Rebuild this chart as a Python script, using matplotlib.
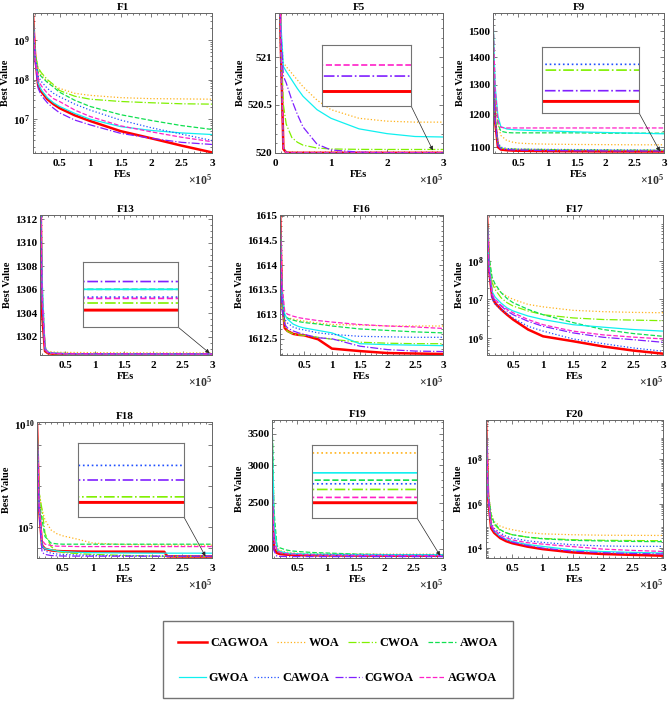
import numpy as np
import matplotlib.pyplot as plt
from matplotlib.lines import Line2D
from matplotlib.patches import Rectangle
from matplotlib.ticker import FixedLocator, FuncFormatter, NullLocator, MultipleLocator, LogLocator

plt.rcParams['font.family'] = ['Liberation Serif', 'DejaVu Serif']
plt.rcParams['font.weight'] = 'bold'
plt.rcParams['mathtext.fontset'] = 'custom'
plt.rcParams['mathtext.rm'] = 'Liberation Serif:bold'
plt.rcParams['mathtext.bf'] = 'Liberation Serif:bold'
plt.rcParams['mathtext.it'] = 'Liberation Serif:bold:italic'

# algorithms (legend order), colours and line styles
algs = ['CAGWOA', 'WOA', 'CWOA', 'AWOA', 'GWOA', 'CAWOA', 'CGWOA', 'AGWOA']
colors = ['#ff0000', '#ffb21a', '#80f000', '#10e050', '#10f0f0', '#2050ff', '#8020ff', '#ff20c8']
styles = ['-', ':', '-.', '--', '-', ':', '-.', '--']
widths = [1.8, 0.9, 0.9, 0.9, 0.9, 0.9, 0.9, 0.9]

# FEs where the curves were read
fes = [6500, 10000, 15000, 20000, 30000, 40000, 50000, 75000, 100000, 150000, 200000, 250000, 300000]
fes_f18 = [6500, 10000, 15000, 20000, 30000, 40000, 50000, 75000, 100000, 150000, 200000, 220000, 225000, 250000, 300000]

f1 = {
    'CAGWOA': [4.2e9, 4e8, 7e7, 5e7, 3.2e7, 2.4e7, 1.9e7, 1.25e7, 9e6, 5e6, 3.3e6, 2.15e6, 1.45e6],
    'WOA':    [3.5e9, 5e8, 1.9e8, 1.3e8, 9e7, 6.9e7, 6e7, 4.5e7, 4e7, 3.5e7, 3.3e7, 3.25e7, 3.2e7],
    'CWOA':   [3.8e9, 4.5e8, 2e8, 1.5e8, 1e8, 7.5e7, 5.3e7, 3.8e7, 3.2e7, 2.8e7, 2.6e7, 2.45e7, 2.4e7],
    'AWOA':   [4e9, 4e8, 1.5e8, 1.2e8, 8.5e7, 6.5e7, 4.8e7, 3e7, 2.1e7, 1.3e7, 9.3e6, 6.9e6, 5.5e6],
    'GWOA':   [4.5e9, 3.5e8, 8e7, 5.5e7, 3.5e7, 2.6e7, 2.1e7, 1.4e7, 1e7, 6.5e6, 5.2e6, 4.5e6, 4.1e6],
    'CAWOA':  [3.9e9, 4e8, 1.2e8, 9e7, 6e7, 4.5e7, 3.7e7, 2.4e7, 1.7e7, 9.5e6, 6.1e6, 4.2e6, 2.9e6],
    'CGWOA':  [3.3e9, 3e8, 6e7, 4e7, 2.6e7, 1.9e7, 1.45e7, 9.5e6, 7.2e6, 4.4e6, 3.3e6, 2.6e6, 2.3e6],
    'AGWOA':  [3.6e9, 3.5e8, 1e8, 7e7, 4.5e7, 3.3e7, 2.8e7, 1.7e7, 1.17e7, 6.8e6, 4.8e6, 3.5e6, 2.7e6],
}
f5 = {
    'CAGWOA': [522.5, 521.2, 520.04, 520.002, 520.0, 520.0, 520.0, 520.0, 520.0, 520.0, 520.0, 520.0, 520.0],
    'WOA':    [522.9, 521.3, 520.94, 520.9, 520.83, 520.76, 520.69, 520.55, 520.45, 520.36, 520.33, 520.32, 520.32],
    'CWOA':   [522.5, 521.3, 520.5, 520.3, 520.16, 520.11, 520.08, 520.05, 520.04, 520.036, 520.035, 520.035, 520.035],
    'AWOA':   [522.4, 521.1, 520.06, 520.004, 520.0015, 520.0013, 520.0012, 520.0012, 520.0012, 520.0012, 520.0012, 520.0012, 520.0012],
    'GWOA':   [522.9, 521.4, 520.9, 520.85, 520.76, 520.67, 520.59, 520.45, 520.36, 520.25, 520.2, 520.17, 520.165],
    'CAWOA':  [522.3, 521.0, 520.05, 520.003, 520.001, 520.0009, 520.0009, 520.0009, 520.0009, 520.0009, 520.0009, 520.0009, 520.0009],
    'CGWOA':  [522.8, 521.3, 520.8, 520.73, 520.55, 520.4, 520.27, 520.09, 520.03, 520.007, 520.001, 520.00024, 520.00024],
    'AGWOA':  [522.6, 521.3, 520.05, 520.003, 520.0008, 520.0006, 520.0005, 520.00045, 520.00042, 520.00042, 520.00042, 520.00042, 520.00042],
}
f9 = {
    'CAGWOA': [1380, 1180, 1100, 1093, 1091, 1090, 1089.5, 1089, 1088.5, 1088, 1087.6, 1087.4, 1087.4],
    'WOA':    [1560, 1250, 1170, 1135, 1120, 1115, 1112, 1110, 1109, 1108, 1107.5, 1107, 1107],
    'CWOA':   [1370, 1190, 1110, 1097, 1095, 1094.5, 1094, 1093.5, 1093, 1092, 1091.5, 1091.2, 1091.2],
    'AWOA':   [1570, 1280, 1170, 1148, 1144, 1143, 1143, 1143, 1143, 1143, 1142, 1142, 1142],
    'GWOA':   [1570, 1300, 1195, 1162, 1155, 1153, 1152, 1150, 1149, 1146, 1144, 1142, 1140],
    'CAWOA':  [1380, 1190, 1115, 1100, 1096, 1095, 1094.5, 1094, 1093.5, 1093, 1092.5, 1091.9, 1091.9],
    'CGWOA':  [1375, 1185, 1105, 1095, 1093, 1092, 1091.5, 1091, 1090, 1089.5, 1089, 1088.7, 1088.7],
    'AGWOA':  [1570, 1290, 1180, 1160, 1158, 1158, 1158, 1158, 1158, 1158, 1158, 1158, 1158],
}
f13 = {
    'CAGWOA': [1318, 1304, 1300.8, 1300.62, 1300.57, 1300.55, 1300.54, 1300.535, 1300.53, 1300.528, 1300.527, 1300.526, 1300.526],
    'WOA':    [1320, 1307, 1301.2, 1300.8, 1300.72, 1300.7, 1300.69, 1300.68, 1300.67, 1300.66, 1300.65, 1300.65, 1300.65],
    'CWOA':   [1317, 1305, 1300.9, 1300.64, 1300.58, 1300.56, 1300.55, 1300.545, 1300.54, 1300.538, 1300.537, 1300.537, 1300.537],
    'AWOA':   [1319, 1306, 1301, 1300.7, 1300.62, 1300.6, 1300.59, 1300.58, 1300.57, 1300.565, 1300.56, 1300.558, 1300.558],
    'GWOA':   [1320, 1307, 1301.1, 1300.72, 1300.62, 1300.6, 1300.59, 1300.58, 1300.57, 1300.565, 1300.56, 1300.558, 1300.558],
    'CAWOA':  [1317, 1305, 1301, 1300.7, 1300.6, 1300.58, 1300.57, 1300.56, 1300.555, 1300.55, 1300.548, 1300.546, 1300.546],
    'CGWOA':  [1318, 1305, 1300.9, 1300.68, 1300.62, 1300.6, 1300.59, 1300.585, 1300.58, 1300.575, 1300.572, 1300.57, 1300.57],
    'AGWOA':  [1319, 1306, 1301, 1300.68, 1300.6, 1300.57, 1300.56, 1300.555, 1300.55, 1300.548, 1300.545, 1300.544, 1300.544],
}
f16 = {
    'CAGWOA': [1615.2, 1613.3, 1612.72, 1612.66, 1612.6, 1612.58, 1612.57, 1612.49, 1612.3, 1612.25, 1612.21, 1612.2, 1612.19],
    'WOA':    [1615.2, 1613.6, 1612.96, 1612.93, 1612.9, 1612.88, 1612.86, 1612.82, 1612.79, 1612.78, 1612.76, 1612.76, 1612.76],
    'CWOA':   [1615.1, 1613.2, 1612.75, 1612.65, 1612.6, 1612.58, 1612.57, 1612.53, 1612.49, 1612.43, 1612.41, 1612.4, 1612.4],
    'AWOA':   [1615.2, 1613.5, 1612.95, 1612.92, 1612.88, 1612.85, 1612.83, 1612.8, 1612.76, 1612.7, 1612.67, 1612.64, 1612.62],
    'GWOA':   [1615.1, 1613.4, 1613.0, 1612.9, 1612.8, 1612.75, 1612.72, 1612.67, 1612.62, 1612.4, 1612.38, 1612.37, 1612.36],
    'CAWOA':  [1615.1, 1613.4, 1612.9, 1612.82, 1612.74, 1612.7, 1612.68, 1612.62, 1612.59, 1612.55, 1612.54, 1612.53, 1612.53],
    'CGWOA':  [1615.0, 1613.1, 1612.79, 1612.72, 1612.66, 1612.62, 1612.59, 1612.52, 1612.5, 1612.35, 1612.28, 1612.25, 1612.24],
    'AGWOA':  [1615.3, 1613.6, 1613.06, 1613.0, 1612.96, 1612.93, 1612.91, 1612.87, 1612.84, 1612.79, 1612.76, 1612.74, 1612.71],
}
f17 = {
    'CAGWOA': [1.6e9, 6e7, 1.2e7, 8e6, 5.5e6, 4e6, 3e6, 1.65e6, 1.1e6, 8.2e5, 6e5, 4.7e5, 3.9e5],
    'WOA':    [1.6e9, 1.2e8, 3.3e7, 2.2e7, 1.5e7, 1.2e7, 1e7, 7.4e6, 6.4e6, 5.2e6, 4.8e6, 4.6e6, 4.5e6],
    'CWOA':   [1.6e9, 1e8, 2.7e7, 1.8e7, 1.1e7, 8.2e6, 6.7e6, 5e6, 4e6, 3.3e6, 3e6, 2.9e6, 2.8e6],
    'AWOA':   [1.6e9, 1.3e8, 3.7e7, 2.5e7, 1.5e7, 1.05e7, 8.2e6, 5.5e6, 4e6, 2.5e6, 1.65e6, 1.3e6, 1.1e6],
    'GWOA':   [1.6e9, 8e7, 1.6e7, 1.15e7, 8e6, 6e6, 5e6, 3.7e6, 3e6, 2.2e6, 1.9e6, 1.65e6, 1.5e6],
    'CAWOA':  [1.6e9, 5e7, 1e7, 7.5e6, 5.5e6, 4.2e6, 3.3e6, 2e6, 1.5e6, 9.4e5, 7.1e5, 5.5e5, 4.5e5],
    'CGWOA':  [1.6e9, 6e7, 1.2e7, 9e6, 6.7e6, 5e6, 4e6, 2.7e6, 2e6, 1.35e6, 1.04e6, 9e5, 7.7e5],
    'AGWOA':  [1.6e9, 6.5e7, 1.35e7, 1e7, 7e6, 5.5e6, 4.5e6, 3e6, 2.2e6, 1.5e6, 1.2e6, 1.05e6, 9.4e5],
}
f18 = {
    'CAGWOA': [1.2e10, 8e5, 1.3e4, 9e3, 7.5e3, 7e3, 6.8e3, 6.6e3, 6.5e3, 6.5e3, 6.5e3, 6.4e3, 3.85e3, 3780, 3780],
    'WOA':    [1.2e10, 4.5e6, 7e5, 2.2e5, 7.4e4, 4.8e4, 3.8e4, 2.6e4, 1.7e4, 1.45e4, 1.4e4, 1.38e4, 1.37e4, 1.36e4, 1.35e4],
    'CWOA':   [1.1e10, 5e6, 7e5, 5e4, 1.15e4, 7e3, 5.9e3, 5.2e3, 4.8e3, 4.3e3, 4e3, 3.9e3, 3.88e3, 3810, 3810],
    'AWOA':   [1.2e10, 2e6, 2.2e5, 3.5e4, 1.7e4, 1.55e4, 1.5e4, 1.5e4, 1.5e4, 1.5e4, 1.5e4, 1.5e4, 1.5e4, 1.5e4, 1.5e4],
    'GWOA':   [1.1e10, 1e6, 1.2e4, 9e3, 8e3, 7e3, 6.6e3, 6e3, 5.8e3, 5.6e3, 5.5e3, 5.5e3, 5.5e3, 5.5e3, 5.5e3],
    'CAWOA':  [1e10, 8e5, 1.2e4, 7e3, 5.5e3, 5e3, 4.8e3, 4.5e3, 4.3e3, 4.1e3, 4e3, 3.99e3, 3.985e3, 3980, 3980],
    'CGWOA':  [1e10, 6e5, 6e3, 4.8e3, 4.2e3, 4.1e3, 4e3, 3.95e3, 3.93e3, 3.92e3, 3.91e3, 3.9e3, 3.9e3, 3900, 3900],
    'AGWOA':  [1.2e10, 1.5e6, 2.4e4, 1.5e4, 1.3e4, 1.2e4, 1.2e4, 1.15e4, 1.15e4, 1.15e4, 1.15e4, 1.15e4, 1.15e4, 1.15e4, 1.15e4],
}
f19 = {
    'CAGWOA': [2800, 2000, 1960, 1950, 1945, 1942, 1940, 1938, 1937, 1936, 1935, 1934.6, 1934.6],
    'WOA':    [3800, 2300, 2010, 1985, 1970, 1962, 1958, 1955, 1953, 1951, 1950, 1949.6, 1949.6],
    'CWOA':   [3800, 2200, 1990, 1965, 1955, 1950, 1947, 1944, 1942, 1940, 1939, 1938.6, 1938.6],
    'AWOA':   [3800, 2400, 2030, 2010, 1990, 1980, 1975, 1965, 1960, 1950, 1945, 1941.4, 1941.4],
    'GWOA':   [3800, 2250, 2000, 1975, 1962, 1956, 1953, 1949, 1947, 1945, 1944, 1943.6, 1943.6],
    'CAWOA':  [2800, 2050, 1975, 1960, 1952, 1948, 1946, 1944, 1943, 1941.5, 1940.8, 1940.3, 1940.3],
    'CGWOA':  [2800, 1980, 1930, 1928, 1927, 1926.5, 1926.3, 1926.2, 1926.1, 1926, 1926, 1926, 1926],
    'AGWOA':  [2800, 2100, 1985, 1965, 1955, 1950, 1947, 1943, 1940, 1938, 1937, 1936.2, 1936.2],
}
f20 = {
    'CAGWOA': [6e9, 2e6, 8.1e4, 5e4, 2.9e4, 2.1e4, 1.7e4, 1.2e4, 9.3e3, 6.6e3, 5.6e3, 5.1e3, 4.7e3],
    'WOA':    [6e9, 4e6, 3.8e5, 1.6e5, 1e5, 8e4, 6.9e4, 5.2e4, 4.5e4, 4.1e4, 3.9e4, 3.85e4, 3.8e4],
    'CWOA':   [6e9, 3e6, 2.5e5, 1.2e5, 6.5e4, 5e4, 4.1e4, 3.2e4, 2.8e4, 2.45e4, 2.3e4, 2.25e4, 2.2e4],
    'AWOA':   [6e9, 3.5e6, 3.2e5, 1.4e5, 6.9e4, 5e4, 4.1e4, 3.2e4, 2.7e4, 2.3e4, 2.15e4, 2.05e4, 2e4],
    'GWOA':   [6e9, 2.5e6, 1e5, 6e4, 3.4e4, 2.5e4, 2.06e4, 1.5e4, 1.23e4, 8.5e3, 7.2e3, 6.6e3, 6.2e3],
    'CAWOA':  [6e9, 2.5e6, 1.4e5, 8e4, 4.9e4, 3.5e4, 2.9e4, 2.2e4, 1.86e4, 1.46e4, 1.28e4, 1.24e4, 1.23e4],
    'CGWOA':  [6e9, 2.3e6, 1e5, 6e4, 3.3e4, 2.4e4, 1.9e4, 1.35e4, 1.03e4, 7.5e3, 6.4e3, 5.9e3, 5.6e3],
    'AGWOA':  [6e9, 2.7e6, 1.2e5, 7e4, 4e4, 3e4, 2.4e4, 1.8e4, 1.56e4, 1.2e4, 9.3e3, 8.1e3, 7.3e3],
}

W, H = 669, 701
fig = plt.figure(figsize=(W / 100, H / 100), dpi=100)

xt = [50000, 100000, 150000, 200000, 250000, 300000]
# title, data, x, box(l,t,r,b px), xlim, xticks, ylim, yticks, label kind / minor step, inset
panels = [
    ('F1', f1, fes, (33, 13, 212, 153), (6500, 3e5), xt, (1.4e6, 4.8e9), [1e7, 1e8, 1e9], 'pow', None),
    ('F5', f5, fes, (275, 13, 443, 153), (0, 3e5), [0, 1e5, 2e5, 3e5], (519.998, 521.46), [520, 520.5, 521], 0.1,
     ([0.28, 0.336, 0.53, 0.436], (519.99975, 520.00075), (2.82e5, 520.025))),
    ('F9', f9, fes, (493, 13, 664, 153), (6500, 3e5), xt, (1083, 1575), [1100, 1200, 1300, 1400, 1500], 25,
     ([0.287, 0.286, 0.567, 0.471], (1086, 1094), (2.93e5, 1088))),
    ('F13', f13, fes, (40, 215, 212, 355), (6500, 3e5), xt, (1300.47, 1312.37), [1302, 1304, 1306, 1308, 1310, 1312], 0.5,
     ([0.25, 0.2, 0.552, 0.464], (1300.50, 1300.60), (2.96e5, 1300.62))),
    ('F16', f16, fes, (280, 215, 443, 355), (6500, 3e5), xt, (1612.17, 1615.02), [1612.5, 1613, 1613.5, 1614, 1614.5, 1615], 0.1, None),
    ('F17', f17, fes, (487, 215, 663, 355), (6500, 3e5), xt, (3.6e5, 1.55e9), [1e6, 1e7, 1e8], 'pow', None),
    ('F18', f18, fes_f18, (37, 422, 212, 558), (6500, 3e5), xt, (3.2e3, 1.3e10), [1e4, 1e5, 1e6, 1e7, 1e8, 1e9, 1e10], 'pow5',
     ([0.234, 0.30, 0.606, 0.544], (3700, 4100), (2.89e5, 3.9e3))),
    ('F19', f19, fes, (272, 420, 443, 558), (6500, 3e5), xt, (1913, 3740), [2000, 2500, 3000, 3500], 100,
     ([0.234, 0.29, 0.614, 0.529], (1930, 1952), (2.95e5, 1935))),
    ('F20', f20, fes, (486, 420, 663, 558), (6500, 3e5), xt, (3.7e3, 5.8e9), [1e4, 1e6, 1e8], 'pow', None),
]


def pow_label(v, p):
    return r'$\mathbf{10^{%d}}$' % round(np.log10(v))


def pow5_label(v, p):
    e = round(np.log10(v))
    return r'$\mathbf{10^{%d}}$' % e if e % 5 == 0 else ''


frame = '0.4'
for title, data, x, box, xlim, xticks, ylim, yticks, kind, inset in panels:
    l, t, r, b = box
    ax = fig.add_axes([l / W, 1 - b / H, (r - l) / W, (b - t) / H])
    for a, c, s, w in zip(algs, colors, styles, widths):
        ax.plot(x, data[a], color=c, ls=s, lw=w)
    ax.set_yscale('log')
    ax.set_xlim(*xlim)
    ax.set_ylim(*ylim)
    ax.xaxis.set_major_locator(FixedLocator(xticks))
    ax.xaxis.set_minor_locator(MultipleLocator(10000))
    ax.xaxis.set_major_formatter(FuncFormatter(lambda v, p: '%g' % (v / 1e5)))
    ax.yaxis.set_major_locator(FixedLocator(yticks))
    if kind == 'pow':
        ax.yaxis.set_major_formatter(FuncFormatter(pow_label))
        ax.yaxis.set_minor_locator(LogLocator(base=10, subs=np.arange(2, 10), numticks=20))
    elif kind == 'pow5':
        ax.yaxis.set_major_formatter(FuncFormatter(pow5_label))
        ax.yaxis.set_minor_locator(NullLocator())
    else:
        ax.yaxis.set_major_formatter(FuncFormatter(lambda v, p: '%g' % v))
        ax.yaxis.set_minor_locator(MultipleLocator(kind))
    ax.yaxis.set_minor_formatter(FuncFormatter(lambda v, p: ''))
    ax.tick_params(which='both', direction='in', top=True, right=True, color=frame, width=0.6)
    ax.tick_params(which='major', length=3, labelsize=8)
    ax.tick_params(axis='y', which='major', pad=2)
    ax.tick_params(axis='x', which='major', pad=4)
    ax.tick_params(which='minor', length=1.6)
    for sp in ax.spines.values():
        sp.set_color(frame)
        sp.set_linewidth(0.7)
    ax.set_title(title, fontsize=8, fontweight='bold', pad=2.5)
    ax.set_xlabel('FEs', fontsize=7.5, fontweight='bold', labelpad=2)
    ax.set_ylabel('Best Value', fontsize=7.5, fontweight='bold', labelpad=2)
    ax.annotate(r'$\times\mathbf{10^{5}}$', xy=(1, 0), xycoords='axes fraction',
                xytext=(0, -20), textcoords='offset points', ha='right', va='center',
                fontsize=8.5, color='0.2')

    if inset is not None:
        bounds, iylim, target = inset
        ins = ax.inset_axes(bounds)
        for a, c, s, w in zip(algs, colors, styles, widths):
            ins.plot(x, data[a], color=c, ls=s, lw=w + 0.3)
        ins.set_xlim(2.6e5, 3e5)
        ins.set_ylim(*iylim)
        ins.set_xticks([])
        ins.set_yticks([])
        for sp in ins.spines.values():
            sp.set_color('0.45')
            sp.set_linewidth(0.8)
        ax.annotate('', xy=target, xycoords='data', xytext=(1, 0), textcoords=ins.transAxes,
                    arrowprops=dict(arrowstyle='-|>', color='0.15', lw=0.5, mutation_scale=6,
                                    shrinkA=0, shrinkB=0))

# legend: two rows laid out separately, inside one grey frame
handles = [Line2D([], [], color=c, ls=s, lw=w) for c, s, w in zip(colors, styles, widths)]
rows = [(0, 1 - 643 / H, 2.35, 0.7, 0.25), (1, 1 - 678 / H, 2.15, 0.45, 0.2)]
for row, yc, hl, cs, tp in rows:
    hs = handles[row * 4:row * 4 + 4]
    ls = algs[row * 4:row * 4 + 4]
    fig.legend(hs, ls, loc='center', bbox_to_anchor=(338 / W, yc), ncol=4, frameon=False,
               prop={'size': 8.8, 'weight': 'bold'}, handlelength=hl, handletextpad=tp,
               columnspacing=cs, borderpad=0, borderaxespad=0)
fig.patches.append(Rectangle((163 / W, 1 - 698 / H), 350 / W, 77 / H, transform=fig.transFigure,
                             fill=False, edgecolor='0.45', lw=1.0))

fig.savefig('out.png', dpi=100)
